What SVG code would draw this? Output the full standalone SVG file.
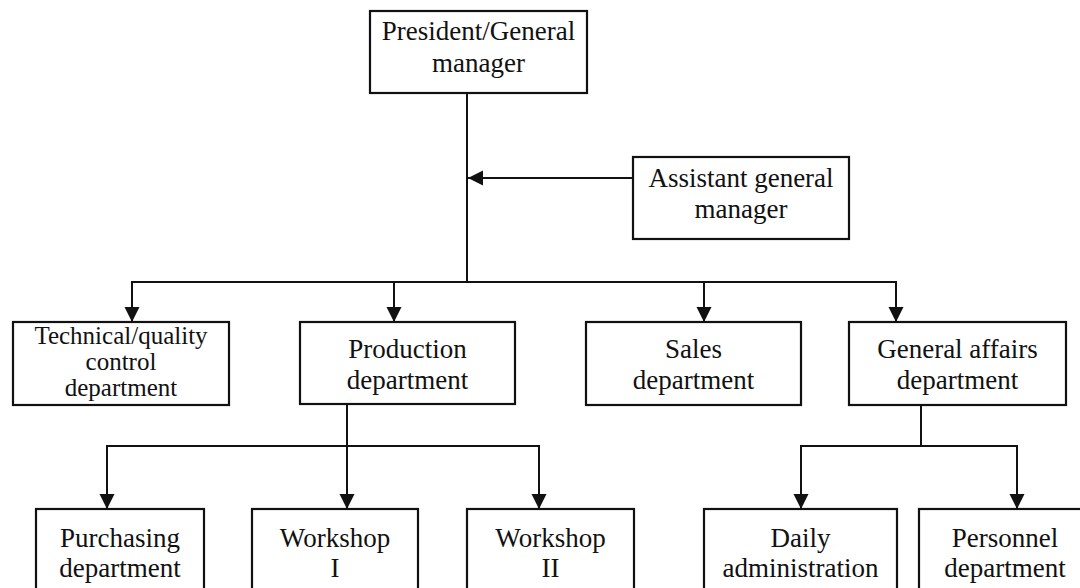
<svg xmlns="http://www.w3.org/2000/svg" width="1080" height="588" viewBox="0 0 1080 588">
<defs>
<style>
.box{fill:#fff;stroke:#111;stroke-width:2.2}
.t{font-family:"Liberation Serif","Times New Roman",serif;font-size:27px;fill:#111;text-anchor:middle}
.s{font-size:25px}
.c{fill:none;stroke:#111;stroke-width:2}
</style>
<marker id="ah" markerUnits="userSpaceOnUse" markerWidth="16" markerHeight="16" refX="15" refY="7.5" orient="auto" viewBox="0 0 16 16">
<path d="M0,0 L15,7.5 L0,15 z" fill="#111"/>
</marker>
</defs>
<rect width="1080" height="588" fill="#fff"/>
<g id="connectors">
<line class="c" x1="467" y1="93" x2="467" y2="282"/>
<line class="c" x1="633" y1="178" x2="468" y2="178" marker-end="url(#ah)"/>
<line class="c" x1="131" y1="282" x2="897" y2="282"/>
<line class="c" x1="132" y1="282" x2="132" y2="322" marker-end="url(#ah)"/>
<line class="c" x1="394" y1="282" x2="394" y2="322" marker-end="url(#ah)"/>
<line class="c" x1="704" y1="282" x2="704" y2="322" marker-end="url(#ah)"/>
<line class="c" x1="896" y1="282" x2="896" y2="322" marker-end="url(#ah)"/>
<line class="c" x1="347" y1="404" x2="347" y2="446"/>
<line class="c" x1="106" y1="446" x2="540" y2="446"/>
<line class="c" x1="107" y1="446" x2="107" y2="509" marker-end="url(#ah)"/>
<line class="c" x1="347" y1="446" x2="347" y2="509" marker-end="url(#ah)"/>
<line class="c" x1="539" y1="446" x2="539" y2="509" marker-end="url(#ah)"/>
<line class="c" x1="921" y1="405" x2="921" y2="446"/>
<line class="c" x1="800" y1="446" x2="1018" y2="446"/>
<line class="c" x1="801" y1="446" x2="801" y2="509" marker-end="url(#ah)"/>
<line class="c" x1="1017" y1="446" x2="1017" y2="509" marker-end="url(#ah)"/>
</g>
<g id="president">
<rect class="box" x="370" y="11" width="217" height="82"/>
<text class="t" x="478.5" y="40">President/General</text>
<text class="t" x="478.5" y="72">manager</text>
</g>
<g id="assistant">
<rect class="box" x="633" y="157" width="216" height="82"/>
<text class="t" x="741" y="187">Assistant general</text>
<text class="t" x="741" y="218">manager</text>
</g>
<g id="technical">
<rect class="box" x="13" y="322" width="216" height="83"/>
<text class="t s" x="121" y="344">Technical/quality</text>
<text class="t s" x="121" y="370">control</text>
<text class="t s" x="121" y="396">department</text>
</g>
<g id="production">
<rect class="box" x="300" y="322" width="215" height="82"/>
<text class="t" x="407.5" y="358">Production</text>
<text class="t" x="407.5" y="389">department</text>
</g>
<g id="sales">
<rect class="box" x="586" y="322" width="215" height="83"/>
<text class="t" x="693.5" y="358">Sales</text>
<text class="t" x="693.5" y="389">department</text>
</g>
<g id="general-affairs">
<rect class="box" x="849" y="322" width="217" height="83"/>
<text class="t" x="957.5" y="358">General affairs</text>
<text class="t" x="957.5" y="389">department</text>
</g>
<g id="purchasing">
<rect class="box" x="36" y="509" width="168" height="95"/>
<text class="t" x="120" y="547">Purchasing</text>
<text class="t" x="120" y="577">department</text>
</g>
<g id="workshop1">
<rect class="box" x="252" y="509" width="166" height="95"/>
<text class="t" x="335" y="547">Workshop</text>
<text class="t" x="335" y="577">I</text>
</g>
<g id="workshop2">
<rect class="box" x="467" y="509" width="167" height="95"/>
<text class="t" x="550.5" y="547">Workshop</text>
<text class="t" x="550.5" y="577">II</text>
</g>
<g id="daily">
<rect class="box" x="704" y="509" width="193" height="95"/>
<text class="t" x="800.5" y="547">Daily</text>
<text class="t" x="800.5" y="577">administration</text>
</g>
<g id="personnel">
<rect class="box" x="919" y="509" width="172" height="95"/>
<text class="t" x="1005" y="547">Personnel</text>
<text class="t" x="1005" y="577">department</text>
</g>
</svg>
